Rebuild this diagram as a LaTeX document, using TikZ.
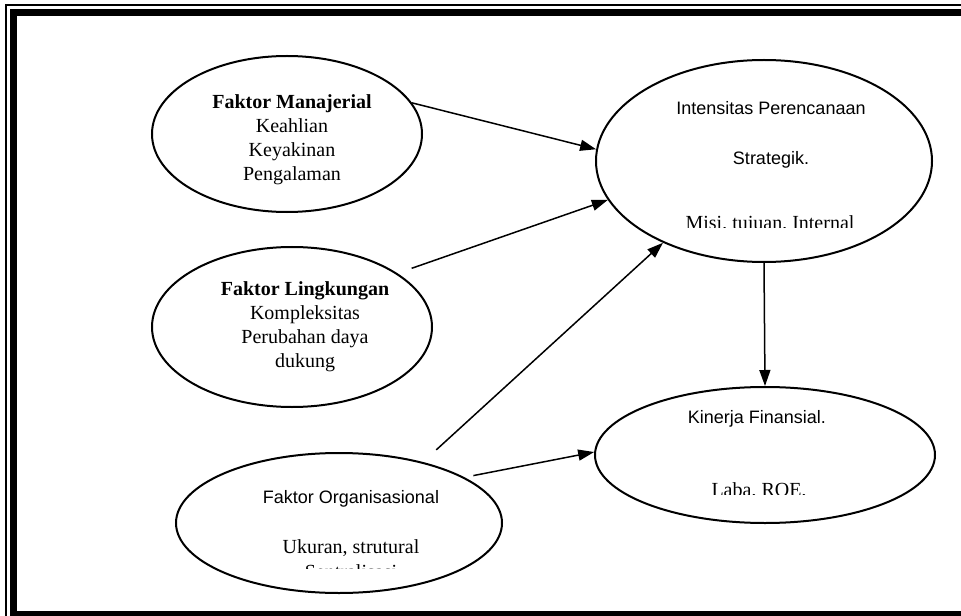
\documentclass[tikz,border=0pt]{standalone}
\usepackage{fontspec}
\setmainfont{Liberation Serif}
\setsansfont{Liberation Sans}
\usepackage{tikz}
\usetikzlibrary{arrows.meta,positioning,shapes.geometric}

\begin{document}
\begin{tikzpicture}[x=1bp, y=-1bp, >={Triangle[length=16bp,width=11bp]}]
        \tikzset{factor/.style={ellipse, draw, line width=2bp, inner sep=0pt}}
        \tikzset{serif/.style={inner sep=0pt, align=center, font=\fontsize{20bp}{24bp}\selectfont}}
        \tikzset{sans/.style={inner sep=0pt, font=\sffamily\fontsize{18bp}{22bp}\selectfont}}
        \tikzset{link/.style={->, line width=1.5bp}}

        \useasboundingbox (0,0) rectangle (961,616);
        \clip (0,0) rectangle (961,616);
        % bingkai halaman
        \draw [line width=1.2bp] (975,5) -- (6,5) -- (6,630);
        \draw [line width=7.5bp] (975,12.5) -- (13.5,12.5) -- (13.5,615) -- (975,615);

        \node [factor, minimum width=270bp, minimum height=156bp] (man) at (287,134) {};
        \node [factor, minimum width=280bp, minimum height=160bp] (ling) at (292,327) {};
        \node [factor, minimum width=326bp, minimum height=140bp] (org) at (339,523) {};
        \node [factor, minimum width=336bp, minimum height=202bp] (int) at (764,161) {};
        \node [factor, minimum width=340bp, minimum height=136bp] (kin) at (765,455) {};

        \node [serif, anchor=north] (manT) at (292,94) {\textbf{Faktor Manajerial}\\Keahlian\\Keyakinan\\Pengalaman};
        \node [serif, anchor=north] (lingT) at (305,281) {\textbf{Faktor Lingkungan}\\Kompleksitas\\Perubahan daya\\dukung};

        \node [sans, anchor=base] (intT) at (771,115) {Intensitas Perencanaan};
        \node [sans, anchor=base] (intS) at (771,165) {Strategik.};
        \node [sans, anchor=base] (kinT) at (757,423) {Kinerja Finansial.};
        \node [sans, anchor=base] (orgT) at (351,503) {Faktor Organisasional};
        \node [serif, anchor=base] (orgU) at (351,553) {Ukuran, strutural};

        % teks yang terpotong di bawah
        \begin{scope}
          \clip (600,200) rectangle (930,228);
          \node [serif, anchor=base] (intM) at (770,230) {Misi, tujuan, Internal};
        \end{scope}
        \begin{scope}
          \clip (600,470) rectangle (930,494);
          \node [serif, anchor=base] (kinL) at (759,496) {Laba, ROE,};
        \end{scope}
        \begin{scope}
          \clip (180,556) rectangle (500,568.5);
          \node [serif, anchor=base] (orgS) at (351,578) {Sentralisasi};
        \end{scope}

        \draw [link] (man.14) -- (int.176);
        \draw [link, shorten <=15bp] (ling.27) -- (int.194);
        \draw [link, shorten <=18bp] (org.36) -- (int.219);
        \draw [link, shorten <=9bp] (org.20) -- (kin.179);
        \draw [link] (int.south) -- (kin.north);
    \end{tikzpicture}
\end{document}
